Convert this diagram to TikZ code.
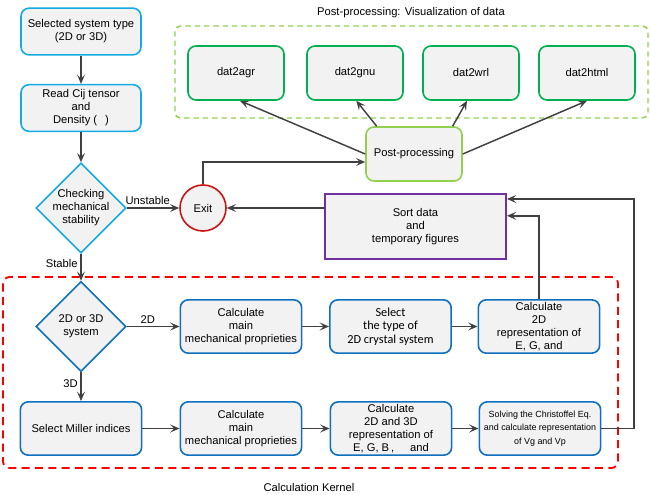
\documentclass[tikz,border=0pt]{standalone}
\usepackage{fontspec}
\setmainfont{Liberation Sans}
\newfontfamily\calibrifont{Carlito}
\usetikzlibrary{shapes.geometric,arrows.meta}

\definecolor{boxfill}{RGB}{242,242,242}
\definecolor{inputcyan}{RGB}{20,170,230}
\definecolor{kernelblue}{RGB}{16,112,192}
\definecolor{datgreen}{RGB}{0,176,80}
\definecolor{postgreen}{RGB}{146,208,80}
\definecolor{exitred}{RGB}{200,20,20}
\definecolor{sortpurple}{RGB}{112,48,160}
\definecolor{arrowgray}{RGB}{64,64,64}
\definecolor{framered}{RGB}{255,0,0}

\tikzset{
  roundbox/.style={rectangle,rounded corners=6pt,fill=boxfill,line width=1.2pt,
    align=center,inner sep=1pt},
  inputbox/.style={roundbox,draw=inputcyan,minimum width=90pt,minimum height=35pt},
  kernelbox/.style={roundbox,draw=kernelblue,minimum width=91pt,minimum height=40pt},
  datbox/.style={roundbox,draw=datgreen,minimum width=72pt,minimum height=40.5pt},
  postbox/.style={roundbox,draw=postgreen,minimum width=72pt,minimum height=40.5pt},
  sortbox/.style={rectangle,draw=sortpurple,fill=boxfill,line width=1.2pt,
    minimum width=136pt,minimum height=49pt,align=center},
  exitnode/.style={circle,draw=exitred,fill=boxfill,line width=1.2pt,minimum size=34.5pt,inner sep=0pt},
  decision/.style={diamond,aspect=1,fill=boxfill,line width=1.2pt,align=center,
    minimum width=67.5pt,minimum height=67.5pt,inner sep=-4pt},
  arr/.style={draw=arrowgray,line width=1.1pt,-{Stealth[length=7pt,width=6pt,inset=3pt]}},
  edgelabel/.style={inner sep=2pt}
}

\begin{document}
\begin{tikzpicture}[x=0.75pt,y=-0.75pt,font=\fontsize{8.4}{9.75}\selectfont]
  \useasboundingbox (0,0) rectangle (650,495);

  % frames
  \draw[postgreen,line width=1.1pt,dash pattern=on 4pt off 3pt,rounded corners=4pt]
    (175,26) rectangle (648,118);
  \draw[framered,line width=1.4pt,dash pattern=on 6pt off 4pt,rounded corners=5pt]
    (3,277) rectangle (618,468);
  \node (posttitle) at (411,13) {Post-processing: Visualization of data};
  \node (kerneltitle) at (309,487) {Calculation Kernel};

  \begin{scope}[every node/.style={inputbox}]
    \node (systype) at (81,31.5) {Selected system type\\(2D or 3D)};
    \node (readcij) at (81,108)  {Read Cij tensor\\and\\Density (\hspace{6pt})};
  \end{scope}
  \node[decision,draw=inputcyan] (check) at (81,208) {Checking\\mechanical\\stability};
  \node[exitnode] (exit) at (203,208) {Exit};
  \node[postbox] (post) at (414,154) {Post-processing};
  \node[sortbox] (sort) at (415.5,226.5) {Sort data\\and\\temporary figures};

  \begin{scope}[every node/.style={datbox}]
    \node (agr)  at (236,73) {dat2agr};
    \node (gnu)  at (355,73) {dat2gnu};
    \node (wrl)  at (471,73) {dat2wrl};
    \node (html) at (587,73) {dat2html};
  \end{scope}

  \node[decision,draw=kernelblue] (dim) at (81,326.5) {2D or 3D\\system};
  \begin{scope}[every node/.style={kernelbox}]
    \node (main2d)  at (241,326.5) {Calculate\\main\\mechanical proprieties};
    \node[font=\calibrifont\fontsize{9.2}{10}\selectfont] (seltype) at (390.5,326.5) {Select\\the type of\\2D crystal system};
    \node (rep2d)   at (539,326.5) {Calculate\\2D\\representation of\\E, G, and};
    \node (miller)  at (81,428.5)  {Select Miller indices};
    \node (main3d)  at (241,428.5) {Calculate\\main\\mechanical proprieties};
    \node (rep3d)   at (391,428.5) {Calculate\\2D and 3D\\representation of\\E, G, B\,,\hspace{12pt}and};
    \node[font=\fontsize{6.7}{10}\selectfont] (chris) at (540,428.5) {Solving the Christoffel Eq.\\and calculate representation\\of Vg and Vp};
  \end{scope}
  \coordinate (back) at (634,199);

  \begin{scope}[every path/.style={arr}]
    \path (systype) edge (readcij);
    \path (readcij) edge (check);
    \path (check) edge node[edgelabel,left,pos=0.35] {Stable} (dim);
    \path (check) edge node[edgelabel,above,pos=0.4] {Unstable} (exit);
    \draw (exit.north) |- ([yshift=-6pt]post.west);
    \draw (sort.west |- exit.east) -- (exit.east);
    \draw (post.west) -- ([xshift=3pt]agr.south);
    \draw ([xshift=-28pt]post.north) -- ([xshift=1pt]gnu.south);
    \draw ([xshift=29pt]post.north) -- ([xshift=-3pt]wrl.south);
    \draw (post.east) -- (html.south);
    \path (dim) edge node[edgelabel,above,pos=0.4] {2D} (main2d);
    \path (dim) edge node[edgelabel,left,pos=0.4] {3D} (miller);
    \path (main2d) edge (seltype);
    \path (seltype) edge (rep2d);
    \draw (rep2d.north) |- ([yshift=8pt]sort.east);
    \path (miller) edge (main3d);
    \path (main3d) edge (rep3d);
    \path (rep3d) edge (chris);
    \draw (chris.east) -| (back) -- (sort.east |- back);
  \end{scope}

\end{tikzpicture}
\end{document}
